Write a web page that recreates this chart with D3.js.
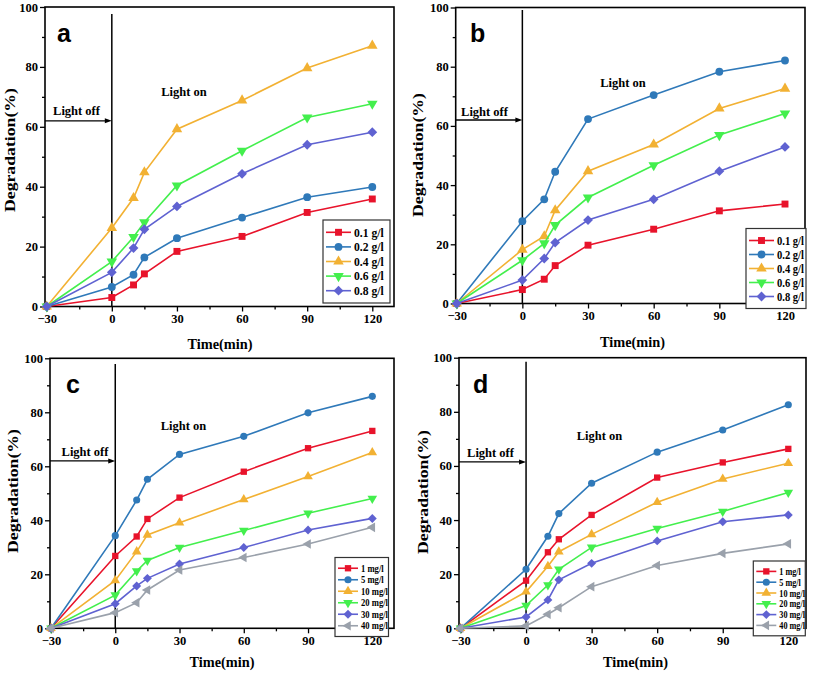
<!DOCTYPE html>
<html><head><meta charset="utf-8">
<script src="https://cdn.jsdelivr.net/npm/d3@7/dist/d3.min.js"></script>
<style>
html,body{margin:0;padding:0;background:#fff;}
svg text{font-family:"Liberation Serif","Times New Roman",serif;font-weight:bold;fill:#000;}
</style></head>
<body>
<svg id="c" width="813" height="673"></svg>
<script>
// ---------- data ----------
const times = [-30, 0, 10, 15, 30, 60, 90, 120];
const xTicks = [-30, 0, 30, 60, 90, 120];
const yTicks = [0, 20, 40, 60, 80, 100];
const dosageNames = ["0.1 g/l", "0.2 g/l", "0.4 g/l", "0.6 g/l", "0.8 g/l"];
const concNames = ["1 mg/l", "5 mg/l", "10 mg/l", "20 mg/l", "30 mg/l", "40 mg/l"];
const panelLetters = ["a", "b", "c", "d"];

const aValues = [
  [0, 3.0, 7.2, 10.9, 18.4, 23.4, 31.4, 35.9],
  [0, 6.5, 10.6, 16.4, 22.8, 29.7, 36.5, 39.9],
  [0, 26.2, 36.2, 44.8, 59.2, 68.8, 79.6, 87.1],
  [0, 15.0, 23.2, 28.1, 40.4, 52.0, 63.1, 67.7],
  [0, 11.4, 19.5, 25.8, 33.4, 44.3, 54.0, 58.2]
];
const bValues = [
  [0, 4.7, 8.2, 12.8, 19.7, 25.1, 31.3, 33.6],
  [0, 27.8, 35.2, 44.5, 62.3, 70.4, 78.3, 82.1],
  [0, 18.2, 22.7, 31.5, 44.7, 53.7, 65.9, 72.6],
  [0, 14.6, 20.3, 26.5, 35.8, 46.7, 56.9, 64.2],
  [0, 7.9, 15.2, 20.6, 28.2, 35.2, 44.7, 52.9]
];
const cValues = [
  [0, 26.8, 34.0, 40.5, 48.4, 58.0, 66.7, 73.1],
  [0, 34.3, 47.5, 55.2, 64.4, 71.1, 79.8, 85.9],
  [0, 17.7, 28.4, 34.6, 39.1, 47.7, 56.2, 65.1],
  [0, 12.3, 21.2, 25.1, 29.9, 36.2, 42.6, 48.1],
  [0, 9.1, 15.7, 18.5, 23.8, 29.9, 36.4, 40.7],
  [0, 5.8, 9.5, 14.2, 21.6, 26.2, 31.2, 37.4]
];
const dValues = [
  [0, 17.6, 28.1, 32.9, 41.9, 55.7, 61.3, 66.3],
  [0, 21.8, 34.0, 42.4, 53.6, 65.1, 73.3, 82.6],
  [0, 13.5, 22.9, 28.3, 34.7, 46.6, 55.2, 61.0],
  [0, 8.4, 16.0, 21.8, 29.9, 36.9, 43.2, 50.2],
  [0, 4.2, 10.5, 17.9, 24.0, 32.3, 39.4, 41.9],
  [0, 0.9, 5.2, 7.6, 15.4, 23.2, 27.7, 31.2]
];
const arrowLevel = [62, 62, 62, 61.5];

// ---------- styles ----------
const colors = ["#e8132b", "#2f79b9", "#f2b133", "#43ef4d", "#5f62d1", "#9aa1ab"];
const markers = ["square", "circle", "triangle", "down", "diamond", "left"];

function symbolPath(kind, size) {
  const t = {square: d3.symbolSquare, circle: d3.symbolCircle, triangle: d3.symbolTriangle,
    down: d3.symbolTriangle, diamond: d3.symbolSquare, left: d3.symbolTriangle}[kind];
  return d3.symbol().type(t).size(size)();
}
function symbolRot(kind) {
  return {down: 180, diamond: 45, left: -90}[kind] || 0;
}

// ---------- layout ----------
const panels = [
  {values: aValues, names: dosageNames, L: 45, R: 394, T: 7, B: 306.5, x0: 46.7, x1: 372.3,
   vTop: 14, letter: [57, 42], off: [76.5, 115], on: [184, 96], ylab: [10, 150], xlab: [220, 349],
   leg: {x: 323, y: 220, w: 67, rowH: 14.6, fs: 12.5, sx: 0.93, lineW: 25}, ms: 48},
  {values: bValues, names: dosageNames, L: 455.7, R: 805, T: 7.5, B: 303.5, x0: 456.7, x1: 785,
   vTop: 10, letter: [470, 42], off: [484.5, 116], on: [623, 87], ylab: [418, 155], xlab: [632.5, 347],
   leg: {x: 746, y: 228.5, w: 60, rowH: 14, fs: 12, sx: 0.88, lineW: 25}, ms: 48},
  {values: cValues, names: concNames, L: 50, R: 394, T: 358.3, B: 628.3, x0: 51, x1: 372.3,
   vTop: 364, letter: [66, 393], off: [85, 456], on: [183.5, 430], ylab: [13, 491], xlab: [222, 667],
   leg: {x: 335, y: 557.5, w: 53.5, rowH: 11.5, fs: 10.5, sx: 0.82, lineW: 20}, ms: 40},
  {values: dValues, names: concNames, L: 459, R: 806, T: 357.7, B: 628.3, x0: 460.5, x1: 788.3,
   vTop: 361.7, letter: [473, 393], off: [490.5, 457], on: [599.5, 440], ylab: [423, 492], xlab: [635.5, 667],
   leg: {x: 753.3, y: 561, w: 52, rowH: 10.8, fs: 10, sx: 0.82, lineW: 20}, ms: 40}
];

const svg = d3.select("#c");

panels.forEach((p, pi) => {
  const k = (p.x1 - p.x0) / 150;
  const x = d3.scaleLinear().domain([-30 + (p.L - p.x0) / k, 120 + (p.R - p.x1) / k]).range([p.L, p.R]);
  const y = d3.scaleLinear().domain([0, 100]).range([p.B, p.T]);
  const g = svg.append("g");

  // axes (bottom & left with outward ticks)
  const xMinor = d3.range(-15, 121, 30);
  const yMinor = d3.range(10, 100, 20);
  const xa = g.append("g").attr("transform", `translate(0,${p.B})`)
    .call(d3.axisBottom(x).tickValues(xTicks).tickSize(5).tickPadding(3).tickFormat(d3.format("d")));
  const xm = g.append("g").attr("transform", `translate(0,${p.B})`)
    .call(d3.axisBottom(x).tickValues(xMinor).tickSize(3).tickFormat(""));
  const ya = g.append("g").attr("transform", `translate(${p.L},0)`)
    .call(d3.axisLeft(y).tickValues(yTicks).tickSize(5).tickPadding(2));
  const ym = g.append("g").attr("transform", `translate(${p.L},0)`)
    .call(d3.axisLeft(y).tickValues(yMinor).tickSize(3).tickFormat(""));
  [xa, xm, ya, ym].forEach(a => {
    a.select(".domain").remove();
    a.selectAll("line").attr("stroke", "#000").attr("stroke-width", 1.3);
    a.selectAll("text").attr("font-size", 12.5).attr("font-family", '"Liberation Serif",serif').attr("font-weight", "bold");
  });

  // frame
  g.append("rect").attr("x", p.L).attr("y", p.T).attr("width", p.R - p.L).attr("height", p.B - p.T)
    .attr("fill", "none").attr("stroke", "#000").attr("stroke-width", 1.6);

  // light on/off markers
  g.append("line").attr("x1", x(0)).attr("x2", x(0)).attr("y1", p.vTop).attr("y2", p.B)
    .attr("stroke", "#000").attr("stroke-width", 1.5);
  const ay = y(arrowLevel[pi]);
  g.append("line").attr("x1", p.L).attr("x2", x(0) - 6).attr("y1", ay).attr("y2", ay)
    .attr("stroke", "#000").attr("stroke-width", 1.3);
  g.append("path").attr("d", `M${x(0)},${ay} L${x(0) - 7},${ay - 2.5} L${x(0) - 7},${ay + 2.5} Z`).attr("fill", "#000");
  g.append("text").attr("x", p.off[0]).attr("y", p.off[1]).attr("text-anchor", "middle").attr("font-size", 12.5).text("Light off");
  g.append("text").attr("x", p.on[0]).attr("y", p.on[1]).attr("text-anchor", "middle").attr("font-size", 12.5).text("Light on");

  // panel letter
  g.append("text").attr("x", p.letter[0]).attr("y", p.letter[1]).attr("font-size", 25)
    .style("font-family", "'Liberation Sans',Arial,sans-serif").style("font-weight", "bold").text(panelLetters[pi]);

  // axis labels
  g.append("text").attr("transform", `translate(${p.ylab[0] + 5},${p.ylab[1]}) rotate(-90)`)
    .attr("text-anchor", "middle").attr("font-size", 14).attr("textLength", 124).attr("lengthAdjust", "spacingAndGlyphs")
    .text("Degradation(%)");
  g.append("text").attr("x", p.xlab[0]).attr("y", p.xlab[1]).attr("text-anchor", "middle").attr("font-size", 14.5)
    .attr("textLength", 65).attr("lengthAdjust", "spacingAndGlyphs").text("Time(min)");

  // series
  const line = d3.line().x((d, i) => x(times[i])).y(d => y(d));
  p.values.forEach((vals, si) => {
    const col = colors[si];
    g.append("path").attr("d", line(vals)).attr("fill", "none").attr("stroke", col).attr("stroke-width", 1.6);
    g.selectAll(null).data(vals).enter().append("path")
      .attr("d", symbolPath(markers[si], p.ms))
      .attr("transform", (d, i) => `translate(${x(times[i])},${y(d)}) rotate(${symbolRot(markers[si])})`)
      .attr("fill", col);
  });

  // legend
  const lg = p.leg;
  const n = p.names.length;
  g.append("rect").attr("x", lg.x).attr("y", lg.y).attr("width", lg.w).attr("height", lg.rowH * n + 10)
    .attr("fill", "#fff").attr("stroke", "#333").attr("stroke-width", 1.2);
  p.names.forEach((nm, si) => {
    const cy = lg.y + 5 + lg.rowH * (si + 0.5);
    const lx = lg.x + 3;
    g.append("line").attr("x1", lx).attr("x2", lx + lg.lineW).attr("y1", cy).attr("y2", cy)
      .attr("stroke", colors[si]).attr("stroke-width", 1.6);
    g.append("path").attr("d", symbolPath(markers[si], p.ms))
      .attr("transform", `translate(${lx + lg.lineW / 2},${cy}) rotate(${symbolRot(markers[si])})`)
      .attr("fill", colors[si]);
    g.append("text").attr("transform", `translate(${lx + lg.lineW + 3},${cy}) scale(${lg.sx},1)`)
      .attr("dy", "0.35em").attr("font-size", lg.fs).text(nm);
  });
});
</script>
</body></html>
